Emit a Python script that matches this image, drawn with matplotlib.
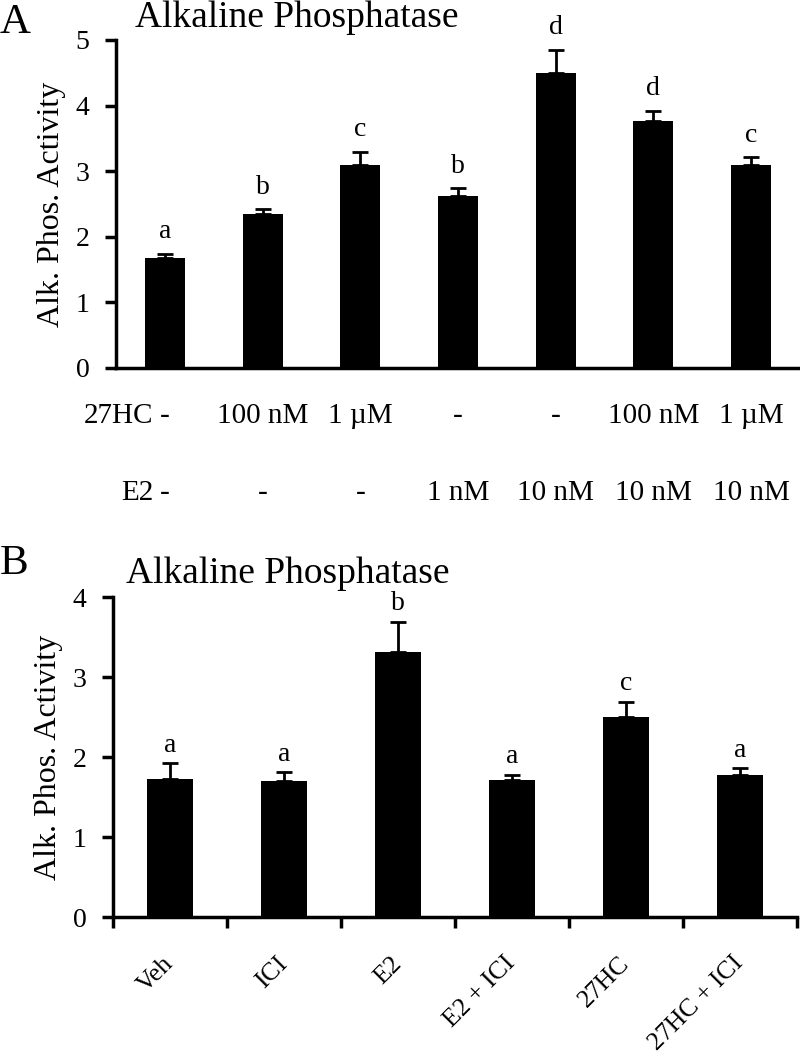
import numpy as np
import matplotlib
matplotlib.use('Agg')
import matplotlib.pyplot as plt
from matplotlib.transforms import blended_transform_factory

plt.rcParams['font.family'] = ['Liberation Serif', 'DejaVu Serif']

# Panel A: 27HC / E2 dose series
a_vals = [1.67, 2.35, 3.09, 2.62, 4.50, 3.77, 3.10]
a_errs = [0.07, 0.07, 0.20, 0.12, 0.35, 0.15, 0.11]
a_letters = ['a', 'b', 'c', 'b', 'd', 'd', 'c']
a_27hc = ['-', '100 nM', '1 µM', '-', '-', '100 nM', '1 µM']
a_e2 = ['-', '-', '-', '1 nM', '10 nM', '10 nM', '10 nM']

# Panel B: ICI blocking
b_groups = ['Veh', 'ICI', 'E2', 'E2 + ICI', '27HC', '27HC + ICI']
b_vals = [1.72, 1.70, 3.31, 1.71, 2.50, 1.77]
b_errs = [0.20, 0.11, 0.38, 0.07, 0.19, 0.09]
b_letters = ['a', 'a', 'b', 'a', 'c', 'a']

fig = plt.figure(figsize=(8, 10.61), dpi=100)
axA = fig.add_axes([0.145, 0.6532, 0.855, 0.3091])
axB = fig.add_axes([0.141, 0.1357, 0.855, 0.3016])


def style(ax, ymax):
    for s in ['top', 'right']:
        ax.spines[s].set_visible(False)
    for s in ['left', 'bottom']:
        ax.spines[s].set_linewidth(2.5)
    ax.set_ylim(0, ymax)
    ax.set_yticks(range(ymax + 1))
    ax.tick_params(axis='y', length=8, width=2.5, labelsize=20, pad=11)
    ax.set_ylabel('Alk. Phos. Activity', fontsize=23, labelpad=7)


def draw_bars(ax, vals, errs, letters, width, offset):
    x = np.arange(len(vals))
    ax.bar(x, vals, width=width, color='black',
           yerr=[np.zeros(len(errs)), errs], capsize=6,
           error_kw=dict(elinewidth=2, capthick=2, ecolor='black'))
    for i, (v, e, l) in enumerate(zip(vals, errs, letters)):
        ax.annotate(l, (i, v + e), xytext=(0, offset), textcoords='offset points',
                    ha='center', va='bottom', fontsize=20)
    ax.set_xlim(-0.5, len(vals) - 0.5)


# --- panel A ---
draw_bars(axA, a_vals, a_errs, a_letters, 0.41, 7)
style(axA, 5)
axA.set_xticks([])

trans = blended_transform_factory(axA.transData, fig.transFigure)
for row_name, row, ypos in [('27HC', a_27hc, 1 - 423 / 1061), ('E2', a_e2, 1 - 500 / 1061)]:
    for i, lab in enumerate(row):
        axA.text(i, ypos, lab, transform=trans, ha='center', va='baseline', fontsize=21)
    axA.annotate(row_name, (0, ypos), xycoords=trans, xytext=(-8, 0),
                 textcoords='offset points', ha='right', va='baseline', fontsize=21)

# --- panel B ---
draw_bars(axB, b_vals, b_errs, b_letters, 0.40, 4)
style(axB, 4)
axB.set_xticks(np.arange(-0.5, len(b_vals)))
axB.set_xticklabels([])
axB.tick_params(axis='x', which='major', length=8, width=2.5)
axB.set_xticks(np.arange(len(b_vals)), minor=True)
axB.set_xticklabels(b_groups, minor=True, rotation=45, ha='right',
                    va='center', rotation_mode='anchor', fontsize=18.5)
axB.tick_params(axis='x', which='minor', length=0, pad=31)

# titles and panel letters
fig.text(135 / 800, 1 - 27 / 1061, 'Alkaline Phosphatase', fontsize=27, va='baseline')
fig.text(126 / 800, 1 - 583 / 1061, 'Alkaline Phosphatase', fontsize=27, va='baseline')
fig.text(0.0, 1 - 33 / 1061, 'A', fontsize=31, va='baseline')
fig.text(0.0, 1 - 574 / 1061, 'B', fontsize=31, va='baseline')

fig.savefig('out.png', dpi=100)
